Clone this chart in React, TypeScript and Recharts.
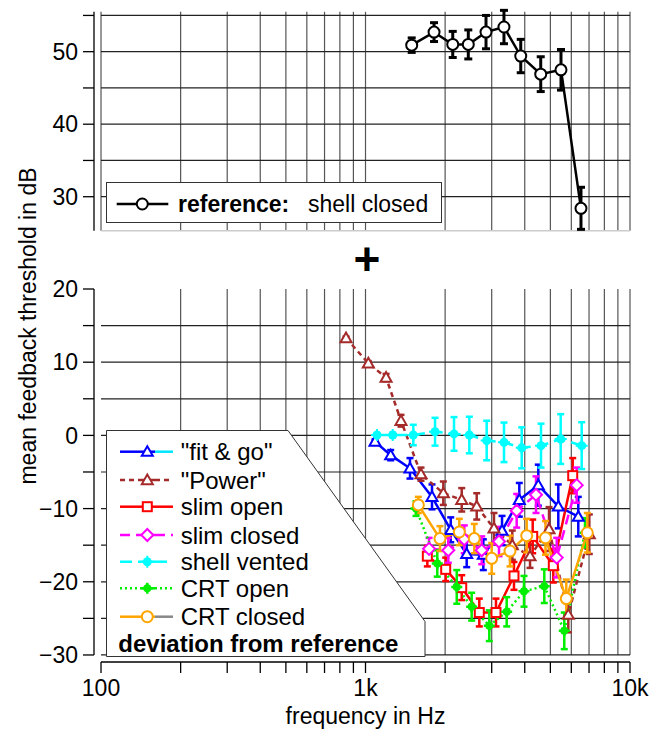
import React from "react";
import { ComposedChart, Line, XAxis, YAxis, ErrorBar, ReferenceLine } from "recharts";

const FONT = '"Liberation Sans", Arial, Helvetica, sans-serif';

// x grid: log decades 100 Hz .. 10 kHz
const gridFreqs = [
  100, 200, 300, 400, 500, 600, 700, 800, 900,
  1000, 2000, 3000, 4000, 5000, 6000, 7000, 8000, 9000, 10000,
];
const xTickLabels: Record<number, string> = { 100: "100", 1000: "1k", 10000: "10k" };

const topTicks = [30, 35, 40, 45, 50, 55];
const topGrid = [30, 35, 40, 45, 50, 55];
const bottomTicks = [-30, -25, -20, -15, -10, -5, 0, 5, 10, 15, 20];
const bottomGrid = [-30, -25, -20, -15, -10, -5, 0, 5, 10, 15];

// reference: shell closed (absolute thresholds)
const refFreq = [1495, 1816, 2137, 2447, 2855, 3338, 3863, 4597, 5484, 6526];
const refVal = [50.9, 52.7, 51.0, 51.0, 52.7, 53.4, 49.4, 46.9, 47.5, 28.4];
const refErr = [1.0, 1.3, 1.8, 2.0, 2.3, 2.3, 2.3, 2.4, 2.8, 2.9];

// deviations from reference
const fitFreq = [1086, 1245, 1473, 1784, 2100, 2413, 2789, 3282, 3815, 4501, 5357, 6375];
const fitVal = [-0.85, -2.7, -4.5, -8.4, -12.9, -16.2, -16.3, -13.0, -8.8, -6.8, -9.7, -11.1];
const fitErr = [0.3, 0.7, 1.4, 1.7, 1.7, 1.8, 2.1, 2.0, 2.3, 2.8, 3.0, 2.7];

const powerFreq = [844, 1025, 1196, 1362, 1621, 1969, 2311, 2633, 3060, 3589, 4188, 4941, 5844, 7017];
const powerVal = [13.3, 9.85, 7.9, 2.0, -5.3, -7.9, -8.8, -9.7, -12.7, -15.0, -16.5, -12.8, -24.5, -13.5];
const powerErr = [0.2, 0.3, 0.5, 0.8, 0.9, 1.6, 1.6, 1.8, 2.1, 2.0, 1.6, 3.0, 2.4, 2.7];

const slimOpenFreq = [1713, 2010, 2311, 2693, 3114, 3642, 4287, 5129, 6073];
const slimOpenVal = [-16.5, -18.3, -20.8, -24.2, -24.2, -19.2, -13.8, -17.8, -5.5];
const slimOpenErr = [1.4, 1.6, 1.7, 1.9, 1.9, 1.9, 2.3, 2.3, 2.4];

const slimClosedFreq = [1739, 2056, 2363, 2750, 3197, 3729, 4412, 5284, 6287];
const slimClosedVal = [-15.5, -15.7, -14.2, -15.7, -14.5, -10.3, -8.1, -16.7, -6.8];
const slimClosedErr = [1.5, 1.7, 1.9, 1.9, 2.0, 2.3, 2.5, 2.7, 2.4];

const ventedFreq = [1105, 1267, 1516, 1832, 2161, 2469, 2872, 3339, 3896, 4608, 5470, 6567];
const ventedVal = [0.05, 0.05, 0.05, 0.5, 0.2, 0.05, -0.7, -0.95, -1.7, -1.4, -0.5, -1.4];
const ventedErr = [0.2, 0.3, 1.4, 1.9, 2.3, 2.5, 2.7, 2.7, 2.8, 3.0, 3.4, 3.2];

const crtOpenFreq = [1552, 1868, 2213, 2520, 2938, 3418, 3974, 4742, 5643, 6759];
const crtOpenVal = [-10.0, -17.5, -20.7, -23.4, -26.0, -24.1, -21.3, -20.6, -26.7, -13.3];
const crtOpenErr = [1.0, 1.8, 2.3, 1.9, 2.1, 2.0, 2.1, 2.3, 2.5, 2.0];

const crtClosedFreq = [1584, 1912, 2263, 2578, 3000, 3518, 4069, 4792, 5743, 6897];
const crtClosedVal = [-9.5, -14.1, -13.2, -14.1, -16.8, -15.8, -13.7, -14.0, -22.3, -13.3];
const crtClosedErr = [1.1, 1.7, 1.8, 2.0, 2.1, 2.1, 2.3, 2.3, 2.6, 2.7];

type Shape = "triangle" | "square" | "diamond" | "circle" | "filled" | "plus";

const toPoints = (f: number[], v: number[], e: number[]) =>
  f.map((x, i) => ({ f: x, v: v[i], e: e[i] }));

const series = [
  { name: '"fit & go"', color: "#0000ff", legendRight: "#00e5ff", dash: undefined, shape: "triangle" as Shape, data: toPoints(fitFreq, fitVal, fitErr) },
  { name: '"Power"', color: "#a52a2a", legendRight: "#a52a2a", dash: "5 4", shape: "triangle" as Shape, data: toPoints(powerFreq, powerVal, powerErr) },
  { name: "slim open", color: "#ff0000", legendRight: "#ff0000", dash: undefined, shape: "square" as Shape, data: toPoints(slimOpenFreq, slimOpenVal, slimOpenErr) },
  { name: "slim closed", color: "#ff00ff", legendRight: "#ff00ff", dash: "10 6", shape: "diamond" as Shape, data: toPoints(slimClosedFreq, slimClosedVal, slimClosedErr) },
  { name: "shell vented", color: "#00ffff", legendRight: "#00ffff", dash: "12 6", shape: "filled" as Shape, data: toPoints(ventedFreq, ventedVal, ventedErr) },
  { name: "CRT open", color: "#00ee00", legendRight: "#00ee00", dash: "2 3", shape: "plus" as Shape, data: toPoints(crtOpenFreq, crtOpenVal, crtOpenErr) },
  { name: "CRT closed", color: "#ffa500", legendRight: "#888888", dash: undefined, shape: "circle" as Shape, data: toPoints(crtClosedFreq, crtClosedVal, crtClosedErr) },
];

const refData = toPoints(refFreq, refVal, refErr);

// axis domains (R-style: axes offset from the plotting region)
const X_DOMAIN: [number, number] = [94.08, 10000];
const TOP_DOMAIN: [number, number] = [25.3, 55.5];
const BOTTOM_DOMAIN: [number, number] = [-30.96, 20];

function Marker({ shape, cx, cy, color }: { shape: Shape; cx: number; cy: number; color: string }) {
  if (cx == null || cy == null || Number.isNaN(cx) || Number.isNaN(cy)) return <g />;
  switch (shape) {
    case "triangle": {
      const r = 5.5;
      return (
        <polygon
          points={`${cx},${cy - r} ${cx - r},${cy + r * 0.75} ${cx + r},${cy + r * 0.75}`}
          fill="#fff"
          stroke={color}
          strokeWidth={2}
        />
      );
    }
    case "square":
      return <rect x={cx - 4.5} y={cy - 4.5} width={9} height={9} fill="#fff" stroke={color} strokeWidth={2} />;
    case "diamond":
      return (
        <polygon
          points={`${cx},${cy - 6} ${cx + 6},${cy} ${cx},${cy + 6} ${cx - 6},${cy}`}
          fill="#fff"
          stroke={color}
          strokeWidth={2}
        />
      );
    case "circle":
      return <circle cx={cx} cy={cy} r={5.5} fill="#fff" stroke={color} strokeWidth={2} />;
    case "filled":
      return (
        <g>
          <circle cx={cx} cy={cy} r={4.5} fill={color} />
          <path d={`M${cx - 6},${cy}H${cx + 6}M${cx},${cy - 6}V${cy + 6}`} stroke={color} strokeWidth={2} />
        </g>
      );
    case "plus":
      return (
        <g>
          <circle cx={cx} cy={cy} r={4} fill={color} />
          <path d={`M${cx - 5.5},${cy}H${cx + 5.5}M${cx},${cy - 5.5}V${cy + 5.5}`} stroke={color} strokeWidth={2.5} />
        </g>
      );
  }
  return <g />;
}

function fmt(v: number): string {
  return v < 0 ? "\u2212" + Math.abs(v) : String(v);
}

function YTick(props: any) {
  const { x, y, payload } = props;
  if (payload.value % 10 !== 0) return <g />;
  return (
    <text x={x} y={y} textAnchor="end" dy="0.36em" fontSize={23} fontFamily={FONT} fill="#000">
      {fmt(payload.value)}
    </text>
  );
}

function XTick(props: any) {
  const { x, y, payload } = props;
  const label = xTickLabels[payload.value];
  if (!label) return <g />;
  return (
    <text x={x} y={y} textAnchor="middle" dy="0.72em" fontSize={23} fontFamily={FONT} fill="#000">
      {label}
    </text>
  );
}

const GRID_H = "#222";
const GRID_V = "#555";

function TopPanel() {
  return (
    <div style={{ position: "absolute", left: 0, top: 0 }}>
      <ComposedChart width={653} height={240} margin={{ top: 11.8, right: 23, bottom: 9.2, left: 0 }}>
        <XAxis dataKey="f" type="number" scale="log" domain={X_DOMAIN} allowDataOverflow hide />
        <YAxis
          type="number"
          domain={TOP_DOMAIN}
          allowDataOverflow
          ticks={topTicks}
          interval={0}
          width={94}
          tickSize={11}
          tickMargin={5}
          tick={<YTick />}
          axisLine={{ stroke: "#000", strokeWidth: 1.3 }}
          tickLine={{ stroke: "#000", strokeWidth: 1.3 }}
        />
        {gridFreqs.map((f) => (
          <ReferenceLine key={"tv" + f} x={f} stroke={GRID_V} strokeWidth={1.2} ifOverflow="visible" />
        ))}
        {topGrid.map((v) => (
          <ReferenceLine
            key={"th" + v}
            segment={[{ x: 100, y: v }, { x: 10000, y: v }]}
            stroke={GRID_H}
            strokeWidth={1.2}
            ifOverflow="visible"
          />
        ))}
        <ReferenceLine
          segment={[{ x: 100, y: TOP_DOMAIN[0] }, { x: 10000, y: TOP_DOMAIN[0] }]}
          stroke="#cccccc"
          strokeWidth={1.5}
          ifOverflow="visible"
        />
        <Line
          data={refData}
          dataKey="v"
          stroke="#000"
          strokeWidth={2.5}
          isAnimationActive={false}
          activeDot={false}
          dot={(p: any) => <Marker key={"r" + p.index} shape="circle" cx={p.cx} cy={p.cy} color="#000" />}
        >
          <ErrorBar dataKey="e" width={4} strokeWidth={3} stroke="#000" direction="y" />
        </Line>
      </ComposedChart>
    </div>
  );
}

function BottomPanel() {
  return (
    <div style={{ position: "absolute", left: 0, top: 0 }}>
      <ComposedChart width={653} height={731} margin={{ top: 289, right: 23, bottom: 29, left: 0 }}>
        <XAxis
          dataKey="f"
          type="number"
          scale="log"
          domain={X_DOMAIN}
          allowDataOverflow
          ticks={gridFreqs}
          interval={0}
          height={40}
          tickSize={11}
          tickMargin={6}
          tick={<XTick />}
          axisLine={false}
          tickLine={{ stroke: "#000", strokeWidth: 1.3 }}
        />
        <YAxis
          type="number"
          domain={BOTTOM_DOMAIN}
          allowDataOverflow
          ticks={bottomTicks}
          interval={0}
          width={94}
          tickSize={11}
          tickMargin={5}
          tick={<YTick />}
          axisLine={false}
          tickLine={{ stroke: "#000", strokeWidth: 1.3 }}
        />
        {gridFreqs.slice(1).map((f) => (
          <ReferenceLine
            key={"bv" + f}
            segment={[{ x: f, y: -30 }, { x: f, y: 20 }]}
            stroke={GRID_V}
            strokeWidth={1.2}
            ifOverflow="visible"
          />
        ))}
        {bottomGrid.map((v) => (
          <ReferenceLine
            key={"bh" + v}
            segment={[{ x: 100, y: v }, { x: 10000, y: v }]}
            stroke={GRID_H}
            strokeWidth={1.2}
            ifOverflow="visible"
          />
        ))}
        <ReferenceLine
          segment={[{ x: 100, y: BOTTOM_DOMAIN[0] }, { x: 10000, y: BOTTOM_DOMAIN[0] }]}
          stroke="#000"
          strokeWidth={1.3}
          ifOverflow="visible"
        />
        <ReferenceLine
          segment={[{ x: X_DOMAIN[0], y: -30 }, { x: X_DOMAIN[0], y: 20 }]}
          stroke="#000"
          strokeWidth={1.3}
          ifOverflow="visible"
        />
        {series.map((s) => (
          <Line
            key={s.name}
            data={s.data}
            dataKey="v"
            name={s.name}
            stroke={s.color}
            strokeWidth={2.5}
            strokeDasharray={s.dash}
            isAnimationActive={false}
            activeDot={false}
            dot={(p: any) => <Marker key={s.name + p.index} shape={s.shape} cx={p.cx} cy={p.cy} color={s.color} />}
          >
            <ErrorBar dataKey="e" width={3.5} strokeWidth={2.5} stroke={s.color} direction="y" />
          </Line>
        ))}
      </ComposedChart>
    </div>
  );
}

function Overlay() {
  const rowY = [451.7, 480, 506.7, 535, 561.7, 588.3, 616.7];
  return (
    <svg width={653} height={731} style={{ position: "absolute", left: 0, top: 0, pointerEvents: "none" }} fontFamily={FONT}>
      {/* top legend */}
      <rect x={106.5} y={182.5} width={335} height={40} fill="#fff" stroke="#333" strokeWidth={1} />
      <line x1={116.7} x2={168.3} y1={204} y2={204} stroke="#000" strokeWidth={2.5} />
      <Marker shape="circle" cx={142.3} cy={204} color="#000" />
      <text x={178} y={212} fontSize={23} fontWeight="bold">reference:</text>
      <text x={308} y={212} fontSize={23}>shell closed</text>

      {/* plus between panels */}
      <text x={367} y={275} fontSize={46} fontWeight="bold" textAnchor="middle">+</text>

      {/* bottom legend */}
      <polygon points="106.5,430.5 288,430.5 425,621.5 425,656.5 106.5,656.5" fill="#fff" stroke="#333" strokeWidth={1} />
      {series.map((s, i) => (
        <g key={s.name}>
          <line x1={120} x2={140} y1={rowY[i]} y2={rowY[i]} stroke={s.color} strokeWidth={2.5} strokeDasharray={s.dash} />
          <line x1={140} x2={155} y1={rowY[i]} y2={rowY[i]} stroke={s.color} strokeWidth={2.5} />
          <line x1={155} x2={173} y1={rowY[i]} y2={rowY[i]} stroke={s.legendRight} strokeWidth={2.5} strokeDasharray={s.dash} />
          <Marker shape={s.shape} cx={147.3} cy={rowY[i]} color={s.color} />
          <text x={180.7} y={rowY[i] + 8.5} fontSize={24}>{s.name}</text>
        </g>
      ))}
      <text x={118.3} y={643.3 + 8.5} fontSize={24} fontWeight="bold">deviation from reference</text>

      {/* axis titles */}
      <text x={365.5} y={724} fontSize={23} textAnchor="middle">frequency in Hz</text>
      <text transform="translate(36,326) rotate(-90)" fontSize={23} textAnchor="middle">
        mean feedback threshold in dB
      </text>
    </svg>
  );
}

export default function App() {
  return (
    <div style={{ position: "absolute", left: 0, top: 0, width: 653, height: 731, background: "#fff" }}>
      <BottomPanel />
      <TopPanel />
      <Overlay />
    </div>
  );
}
